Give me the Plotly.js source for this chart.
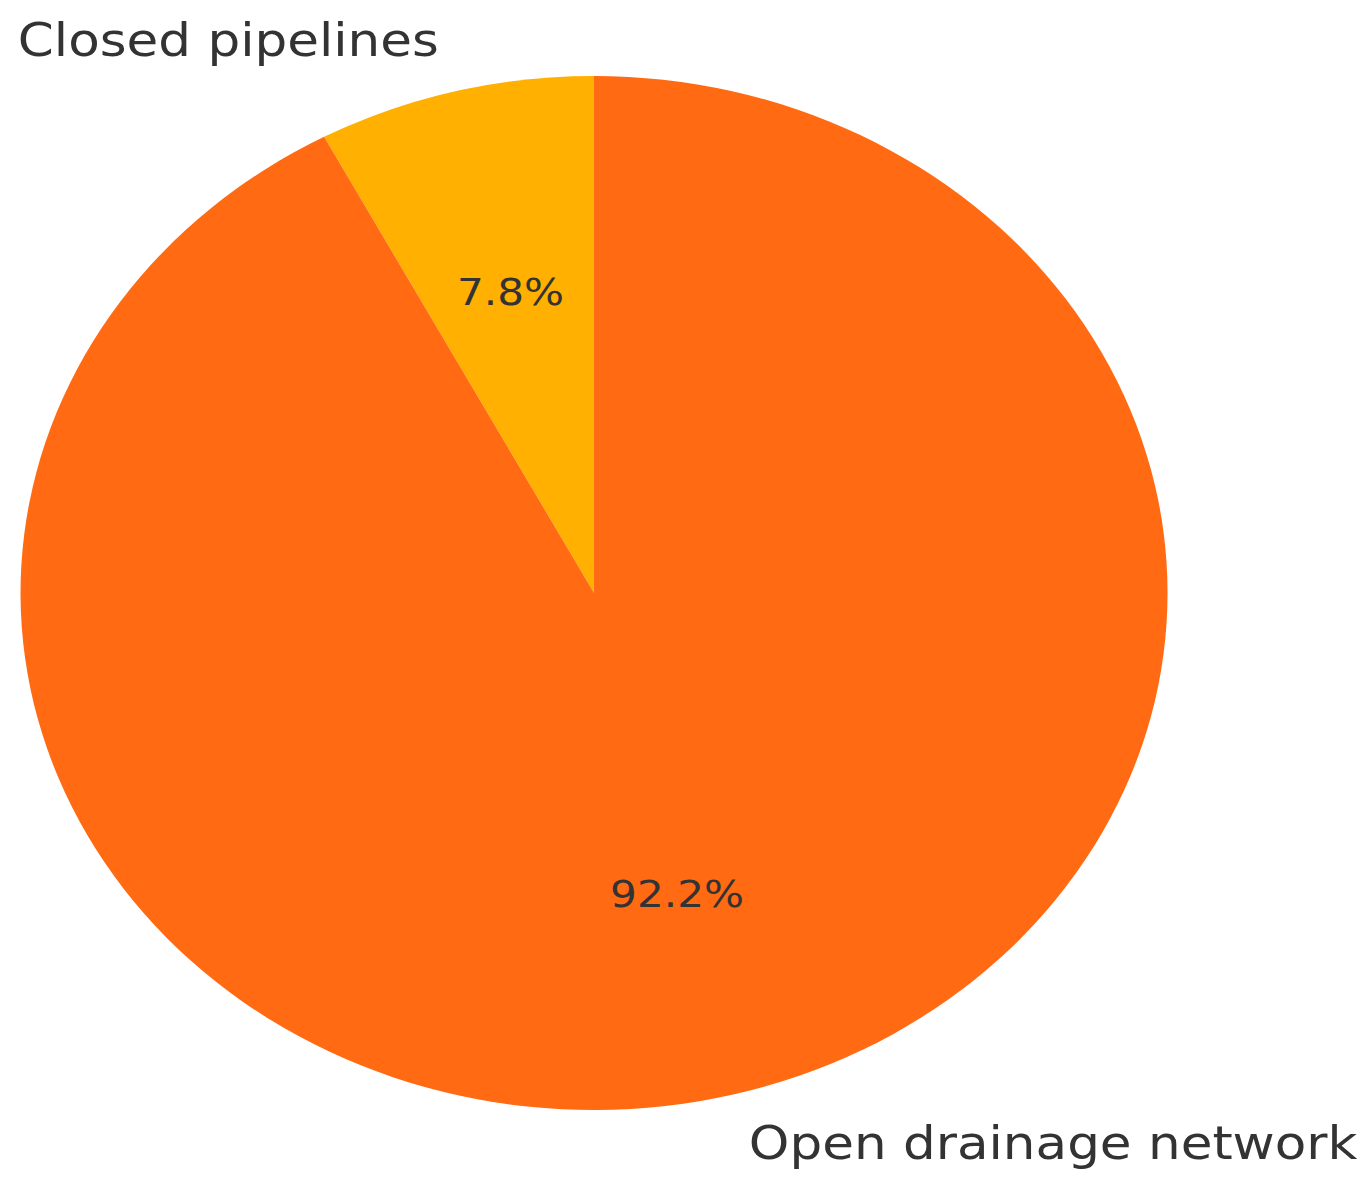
<!DOCTYPE html>
<html>
<head>
<meta charset="utf-8">
<script src="https://cdn.plot.ly/plotly-3.0.1.min.js"></script>
<style>
  html, body { margin: 0; padding: 0; background: #ffffff; overflow: hidden; }
  #chart { width: 1237px; height: 1181px; transform: scaleX(1.1093); transform-origin: 0 0; }
</style>
</head>
<body>
<div id="chart"></div>
<script>
// Data
var categories = ["Closed pipelines", "Open drainage network"];
var values = [7.8, 92.2];
var colors = ["#FFB000", "#FF6A12"];

// Geometry (unscaled plot space; the page is stretched horizontally like the reference)
var W = 1237, H = 1181;
var cxPx = 535.5, cyPx = 593, R = 517;
var domainX = [(cxPx - R) / W, (cxPx + R) / W];
var domainY = [1 - (cyPx + R) / H, 1 - (cyPx - R) / H];

var total = values.reduce(function (a, b) { return a + b; }, 0);
var annotations = [];
var start = 90; // degrees, counterclockwise from 3 o'clock
values.forEach(function (v, i) {
  var sweep = v / total * 360;
  var mid = (start + sweep / 2) * Math.PI / 180;
  var c = Math.cos(mid), s = Math.sin(mid);
  // outside label
  annotations.push({
    x: (cxPx + 1.1 * R * c) / W, y: 1 - (cyPx - 1.1 * R * s - 1.5) / H,
    xref: "paper", yref: "paper", showarrow: false,
    xanchor: c < 0 ? "right" : "left", yanchor: "middle",
    text: categories[i],
    font: { family: "DejaVu Sans", size: 46.5, color: "#333333" }
  });
  // percentage label
  annotations.push({
    x: (cxPx + 0.6 * R * c) / W, y: 1 - (cyPx - 0.6 * R * s) / H,
    xref: "paper", yref: "paper", showarrow: false,
    xanchor: "center", yanchor: "middle",
    text: (v / total * 100).toFixed(1) + "%",
    font: { family: "DejaVu Sans", size: 38, color: "#333333" }
  });
  start += sweep;
});

var trace = {
  type: "pie",
  labels: categories,
  values: values,
  marker: { colors: colors, line: { width: 0 } },
  sort: false,
  direction: "clockwise",
  rotation: -values[0] / total * 360,
  textinfo: "none",
  hoverinfo: "none",
  domain: { x: domainX, y: domainY }
};

var layout = {
  width: W, height: H,
  margin: { l: 0, r: 0, t: 0, b: 0 },
  showlegend: false,
  paper_bgcolor: "#ffffff",
  annotations: annotations
};

Plotly.newPlot("chart", [trace], layout, { displayModeBar: false, staticPlot: true });
</script>
</body>
</html>
